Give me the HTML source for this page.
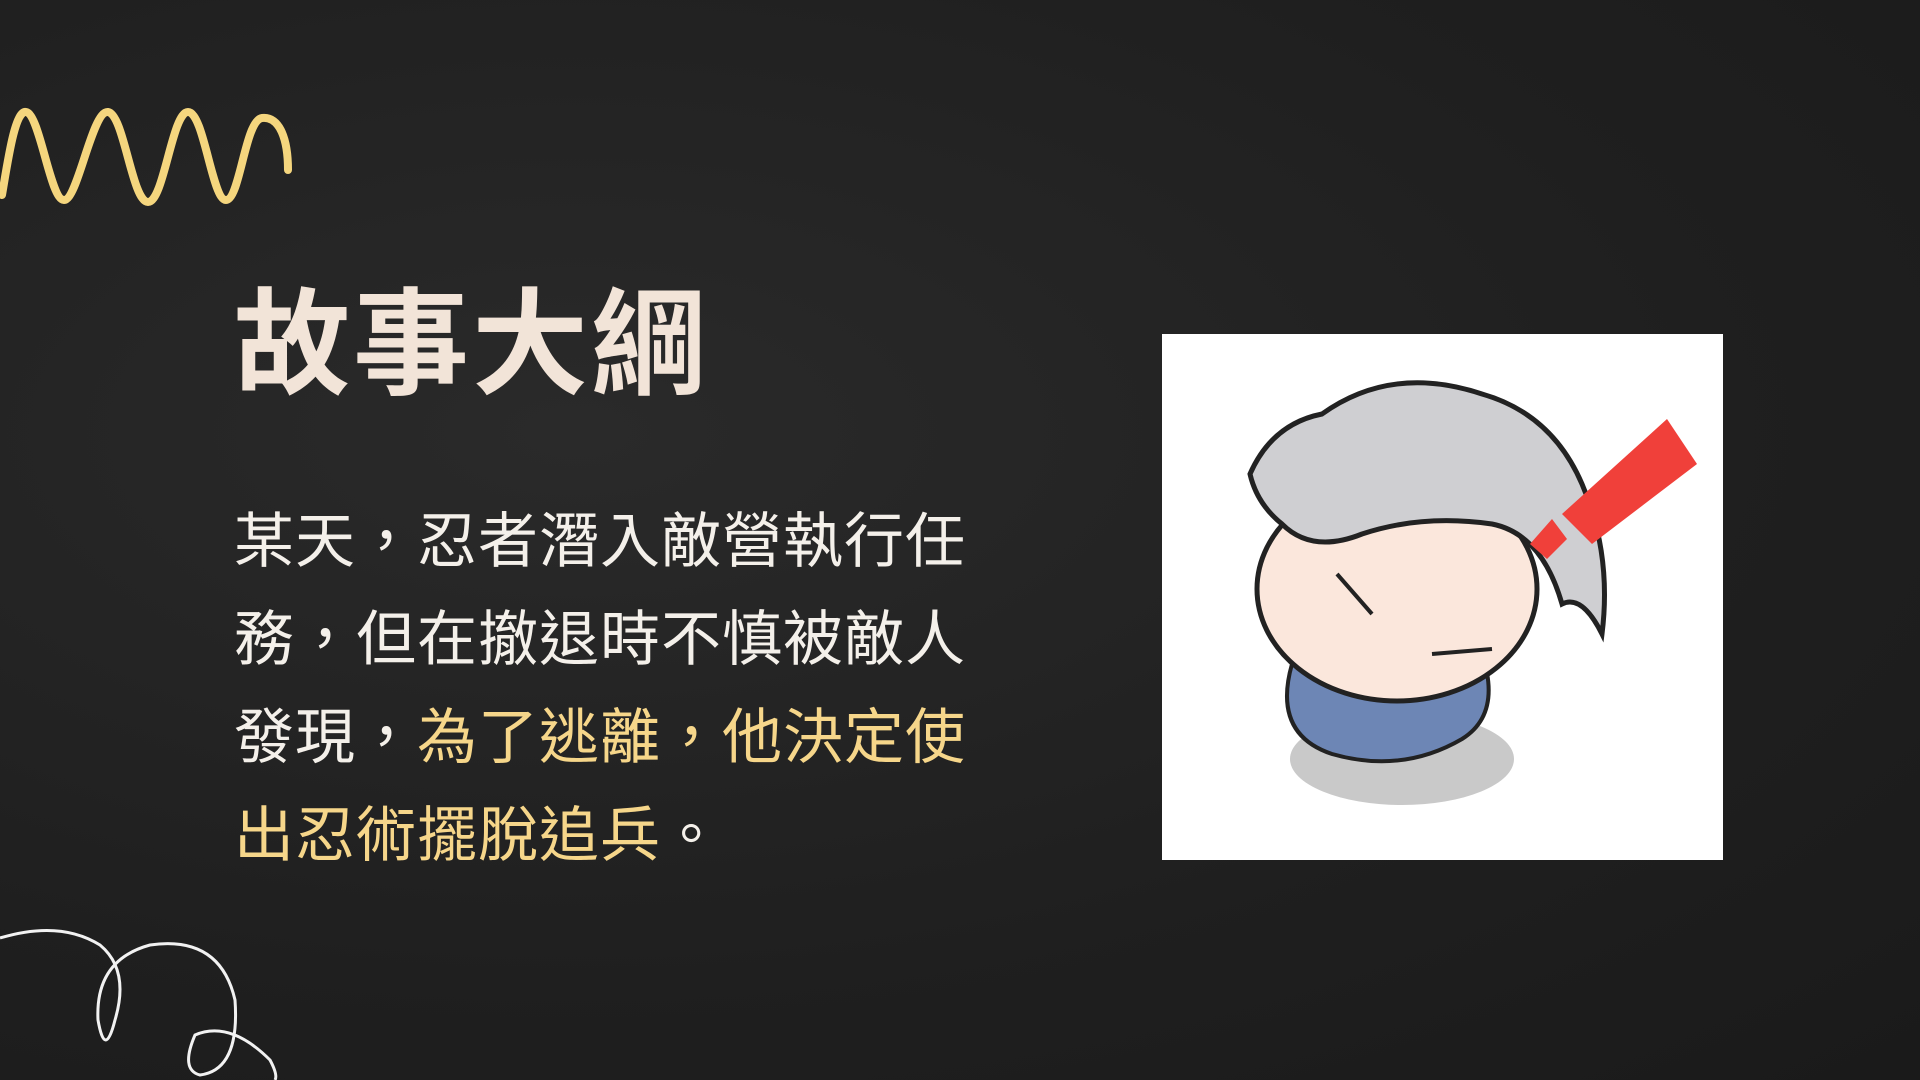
<!DOCTYPE html>
<html>
<head>
<meta charset="utf-8">
<style>
html,body{margin:0;padding:0;}
body{width:1920px;height:1080px;overflow:hidden;position:relative;
background:#222;
background-image:radial-gradient(ellipse at 30% 40%,#2a2a2a 0%,#1f1f1f 60%,#1a1a1a 100%);
font-family:"Liberation Sans","Noto Sans CJK TC",sans-serif;}
.title{position:absolute;left:234px;top:280px;font-size:116px;font-weight:700;color:#f2e4d8;letter-spacing:3px;line-height:130px;white-space:nowrap;}
.body{position:absolute;left:234px;top:493px;width:740px;font-size:60px;line-height:98px;color:#f4f0ea;letter-spacing:1px;}
.body span{color:#f6d68a;}
.photo{position:absolute;left:1162px;top:334px;width:561px;height:526px;background:#fff;}
</style>
</head>
<body>
<svg style="position:absolute;left:0;top:100px" width="300" height="115" viewBox="0 0 300 115">
<path d="M2,95 C8,60 15,10 26,12 C40,14 50,100 64,100 C78,100 92,10 108,12 C124,14 132,102 148,102 C164,102 172,12 188,12 C204,12 212,100 226,100 C240,100 245,20 262,18 C280,16 288,40 288,70" fill="none" stroke="#f5d67e" stroke-width="8" stroke-linecap="round" stroke-linejoin="round"/>
</svg>
<div class="title">故事大綱</div>
<div class="body">某天，忍者潛入敵營執行任務，但在撤退時不慎被敵人發現，<span>為了逃離，他決定使出忍術擺脫追兵</span>。</div>
<div class="photo">
<svg width="561" height="526" viewBox="0 0 561 526">
<ellipse cx="240" cy="425" rx="112" ry="46" fill="#c9c9c9"/>
<path d="M130,330 Q110,400 170,420 Q240,440 300,405 Q340,380 320,320 Z" fill="#6d86b5" stroke="#222" stroke-width="4"/>
<ellipse cx="235" cy="255" rx="140" ry="112" fill="#fbe7dc" stroke="#222" stroke-width="5"/>
<path d="M88,140 Q110,90 160,80 Q230,30 320,60 Q390,80 420,150 Q450,220 440,300 Q420,260 400,270 Q380,200 330,190 Q260,180 200,200 Q150,220 120,190 Q95,170 88,140 Z" fill="#cfcfd2" stroke="#222" stroke-width="5"/>
<path d="M175,240 L210,280 M270,320 L330,315" stroke="#222" stroke-width="4"/>
<polygon points="505,85 535,130 430,210 400,180" fill="#f0403a"/>
<polygon points="390,185 405,205 385,225 368,210" fill="#f0403a"/>
</svg>
</div>
<svg style="position:absolute;left:0;top:920px" width="290" height="160" viewBox="0 0 290 160">
<path d="M0,18 Q60,0 100,25 Q130,50 115,100 Q105,140 98,100 Q95,40 150,25 Q220,15 235,80 Q240,150 200,155 Q180,150 195,115 Q230,100 270,140 Q278,155 275,160" fill="none" stroke="#f2f2f2" stroke-width="3"/>
</svg>
</body>
</html>
